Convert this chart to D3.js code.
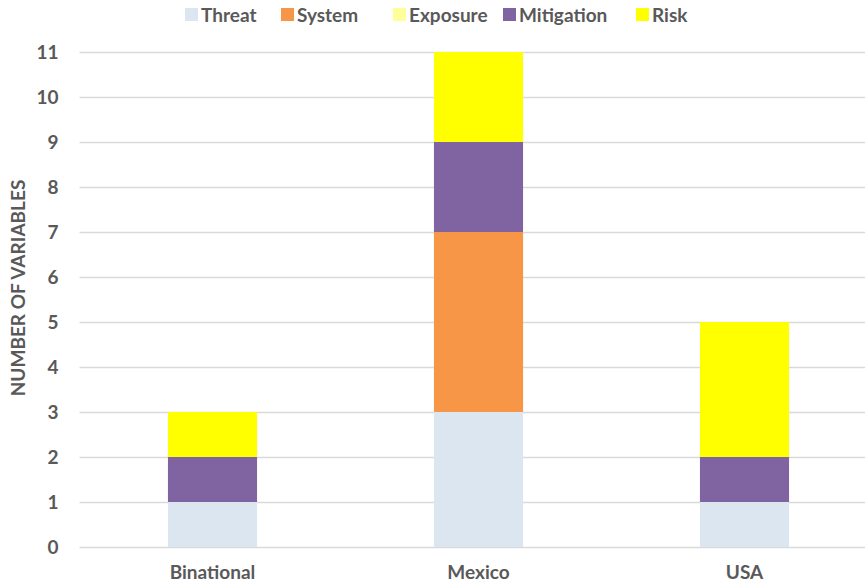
<!DOCTYPE html>
<html>
<head>
<meta charset="utf-8">
<script src="https://cdn.jsdelivr.net/npm/d3@7"></script>
<style>
  body { margin: 0; background: #fff; }
  text { font-family: Lato, "Open Sans", sans-serif; font-weight: bold; fill: #595959; }
</style>
</head>
<body>
<div id="app"></div>
<script>
var regions = ["Binational", "Mexico", "USA"];
var seriesNames = ["Threat", "System", "Exposure", "Mitigation", "Risk"];
var seriesColors = ["#dce6f1", "#f79646", "#ffff99", "#8064a2", "#ffff00"];
var threat = [1, 3, 1];
var system = [0, 4, 0];
var exposure = [0, 0, 0];
var mitigation = [1, 2, 1];
var risk = [1, 2, 3];
var yTicks = [0, 1, 2, 3, 4, 5, 6, 7, 8, 9, 10, 11];

var W = 865;
var H = 588;
var plotLeft = 79.5;
var plotRight = 877.5;
var plotTop = 52;
var plotBottom = 547;

var table = regions.map(function (r, i) {
    return { region: r, Threat: threat[i], System: system[i], Exposure: exposure[i], Mitigation: mitigation[i], Risk: risk[i] };
});
var stacked = d3.stack().keys(seriesNames)(table);

var svg = d3.select("#app")
    .append("svg")
    .attr("width", W)
    .attr("height", H);

var x = d3.scaleBand()
    .domain(regions)
    .range([plotLeft, plotRight])
    .paddingInner(0.665)
    .paddingOuter(0.3325);

var y = d3.scaleLinear()
    .domain([0, 11])
    .range([plotBottom, plotTop]);

var color = d3.scaleOrdinal().domain(seriesNames).range(seriesColors);

//GRIDLINES
svg.append("g")
    .selectAll("line")
    .data(yTicks)
    .enter()
    .append("line")
    .attr("x1", plotLeft)
    .attr("x2", W)
    .attr("y1", function (d) { return Math.round(y(d)) + 0.5; })
    .attr("y2", function (d) { return Math.round(y(d)) + 0.5; })
    .style("stroke", "#d9d9d9")
    .style("stroke-width", 1.5);

//Y AXIS LABELS
var yAxis = svg.append("g")
    .attr("transform", "translate(" + (plotLeft - 21) + ",0)")
    .call(d3.axisLeft(y).tickValues(yTicks).tickSize(0).tickPadding(0));
yAxis.select(".domain").remove();
yAxis.selectAll("text")
    .style("font-size", "19px")
    .attr("dy", "0.35em");

//BARS
svg.append("g")
    .selectAll("g")
    .data(stacked)
    .enter()
    .append("g")
    .style("fill", function (s) { return color(s.key); })
    .selectAll("rect")
    .data(function (s) { return s; })
    .enter()
    .append("rect")
    .attr("x", function (d) { return x(d.data.region); })
    .attr("y", function (d) { return y(d[1]); })
    .attr("width", x.bandwidth())
    .attr("height", function (d) { return y(d[0]) - y(d[1]); });

//X AXIS LABELS
var xAxis = svg.append("g")
    .attr("transform", "translate(0," + (plotBottom + 19) + ")")
    .call(d3.axisBottom(x).tickSize(0).tickPadding(0));
xAxis.select(".domain").remove();
xAxis.selectAll("text")
    .style("font-size", "19px")
    .attr("dy", "0.7em");

//Y TITLE
svg.append("text")
    .attr("transform", "translate(25,288) rotate(-90)")
    .attr("text-anchor", "middle")
    .style("font-size", "19px")
    .text("NUMBER OF VARIABLES");

//LEGEND
var legendX = [185, 281, 393, 503, 636];
var legend = svg.append("g")
    .selectAll("g")
    .data(seriesNames)
    .enter()
    .append("g")
    .attr("transform", function (d, i) { return "translate(" + legendX[i] + ",15)"; });
legend.append("rect")
    .attr("x", 0)
    .attr("y", -7)
    .attr("width", 13)
    .attr("height", 13)
    .style("fill", function (d) { return color(d); });
legend.append("text")
    .attr("x", 16)
    .attr("dy", "0.35em")
    .style("font-size", "19px")
    .text(function (d) { return d; });
</script>
</body>
</html>
